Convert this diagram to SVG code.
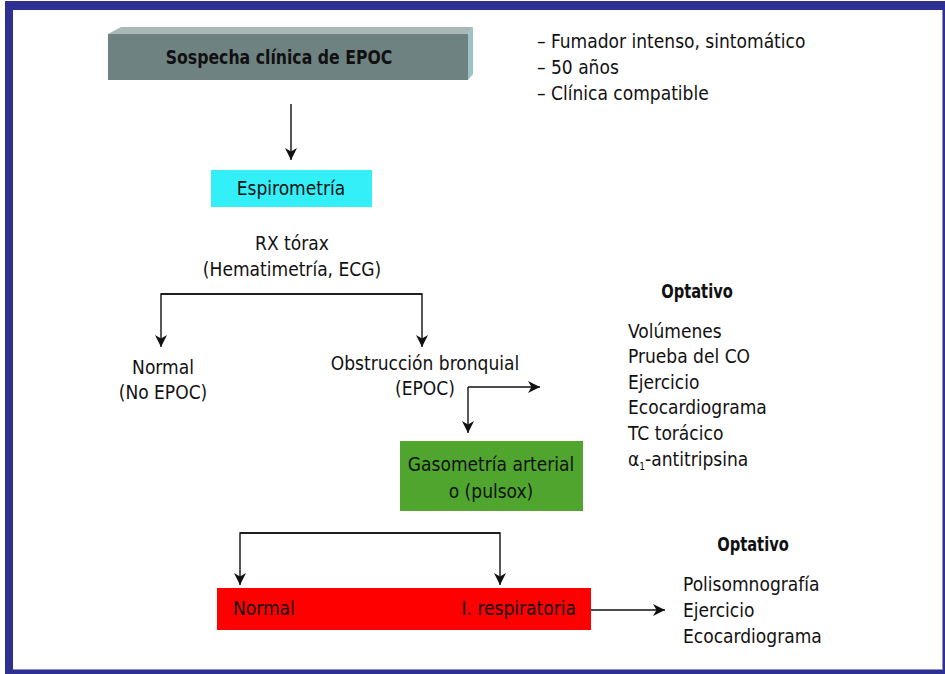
<svg xmlns="http://www.w3.org/2000/svg" width="945" height="674" viewBox="0 0 945 674">
  <style>
    text { font-family: "Liberation Sans Narrow", "DejaVu Sans Condensed", "Liberation Sans", sans-serif; font-size: 19px; fill: #111; }
    .b { font-weight: bold; }
    .c { text-anchor: middle; }
    .ln { fill: none; stroke: #111; stroke-width: 1.4; }
  </style>
  <defs>
    <marker id="ah" viewBox="0 0 12 12" refX="12" refY="6" markerWidth="12" markerHeight="12" markerUnits="userSpaceOnUse" orient="auto">
      <path d="M0,0 L12,6 L0,12 L3.5,6 Z" fill="#111"/>
    </marker>
  </defs>

  <!-- frame -->
  <rect x="5" y="1" width="940" height="673" fill="#2e3192"/>
  <rect x="13" y="10" width="930" height="660" fill="#8e8fc4"/>
  <rect x="13" y="10" width="929" height="659" fill="#ffffff"/>

  <g id="sospecha">
    <polygon points="108,34 121,27 473,27 468,34" fill="#a9b9b8"/>
    <polygon points="468,34 473,27 473,74 468,80" fill="#9cc2c6"/>
    <rect x="108" y="34" width="360" height="46" fill="#6f8282"/>
    <!-- bold heading, narrowed to a condensed width -->
    <text class="b c" transform="translate(279,64) scale(0.92,1)">Sospecha clínica de EPOC</text>
  </g>

  <g id="criterios">
    <text x="537" y="48">– Fumador intenso, sintomático</text>
    <text x="537" y="74">– 50 años</text>
    <text x="537" y="100">– Clínica compatible</text>
  </g>

  <g id="espirometria">
    <rect x="211" y="170" width="161" height="37" fill="#33f0f8"/>
    <text class="c" x="291" y="195">Espirometría</text>
  </g>

  <g id="rx">
    <text class="c" x="292" y="250">RX tórax</text>
    <text class="c" x="292" y="276">(Hematimetría, ECG)</text>
  </g>

  <g id="normal1">
    <text class="c" x="163" y="374">Normal</text>
    <text class="c" x="163" y="399">(No EPOC)</text>
  </g>

  <g id="obstruccion">
    <text class="c" x="425" y="370">Obstrucción bronquial</text>
    <text class="c" x="425" y="395">(EPOC)</text>
  </g>

  <g id="optativo1">
    <text class="b c" transform="translate(697,298) scale(0.86,1)">Optativo</text>
    <text x="628" y="338">Volúmenes</text>
    <text x="628" y="363">Prueba del CO</text>
    <text x="628" y="389">Ejercicio</text>
    <text x="628" y="414">Ecocardiograma</text>
    <text x="628" y="440">TC torácico</text>
    <text x="628" y="466">α<tspan font-size="10" dy="4">1</tspan><tspan dy="-4">-antitripsina</tspan></text>
  </g>

  <g id="gasometria">
    <rect x="400" y="441" width="183" height="70" fill="#4fa52d"/>
    <text class="c" x="491" y="471">Gasometría arterial</text>
    <text class="c" x="491" y="498">o (pulsox)</text>
  </g>

  <g id="resultado">
    <rect x="217" y="588" width="374" height="42" fill="#ff0000"/>
    <text x="233" y="615">Normal</text>
    <text x="576" y="615" text-anchor="end">I. respiratoria</text>
  </g>

  <g id="optativo2">
    <text class="b c" transform="translate(753,551) scale(0.86,1)">Optativo</text>
    <text x="683" y="591">Polisomnografía</text>
    <text x="683" y="617">Ejercicio</text>
    <text x="683" y="643">Ecocardiograma</text>
  </g>

  <g id="connectors">
    <path class="ln" d="M291,104 V160" marker-end="url(#ah)"/>
    <path class="ln" d="M422,294 H161 V347" marker-end="url(#ah)"/>
    <path class="ln" d="M161,294 H422 V347" marker-end="url(#ah)"/>
    <path class="ln" d="M468,387 H540" marker-end="url(#ah)"/>
    <path class="ln" d="M468,387 V433" marker-end="url(#ah)"/>
    <path class="ln" d="M500,533 H240 V585" marker-end="url(#ah)"/>
    <path class="ln" d="M240,533 H500 V585" marker-end="url(#ah)"/>
    <path class="ln" d="M591,610 H665" marker-end="url(#ah)"/>
  </g>
</svg>
